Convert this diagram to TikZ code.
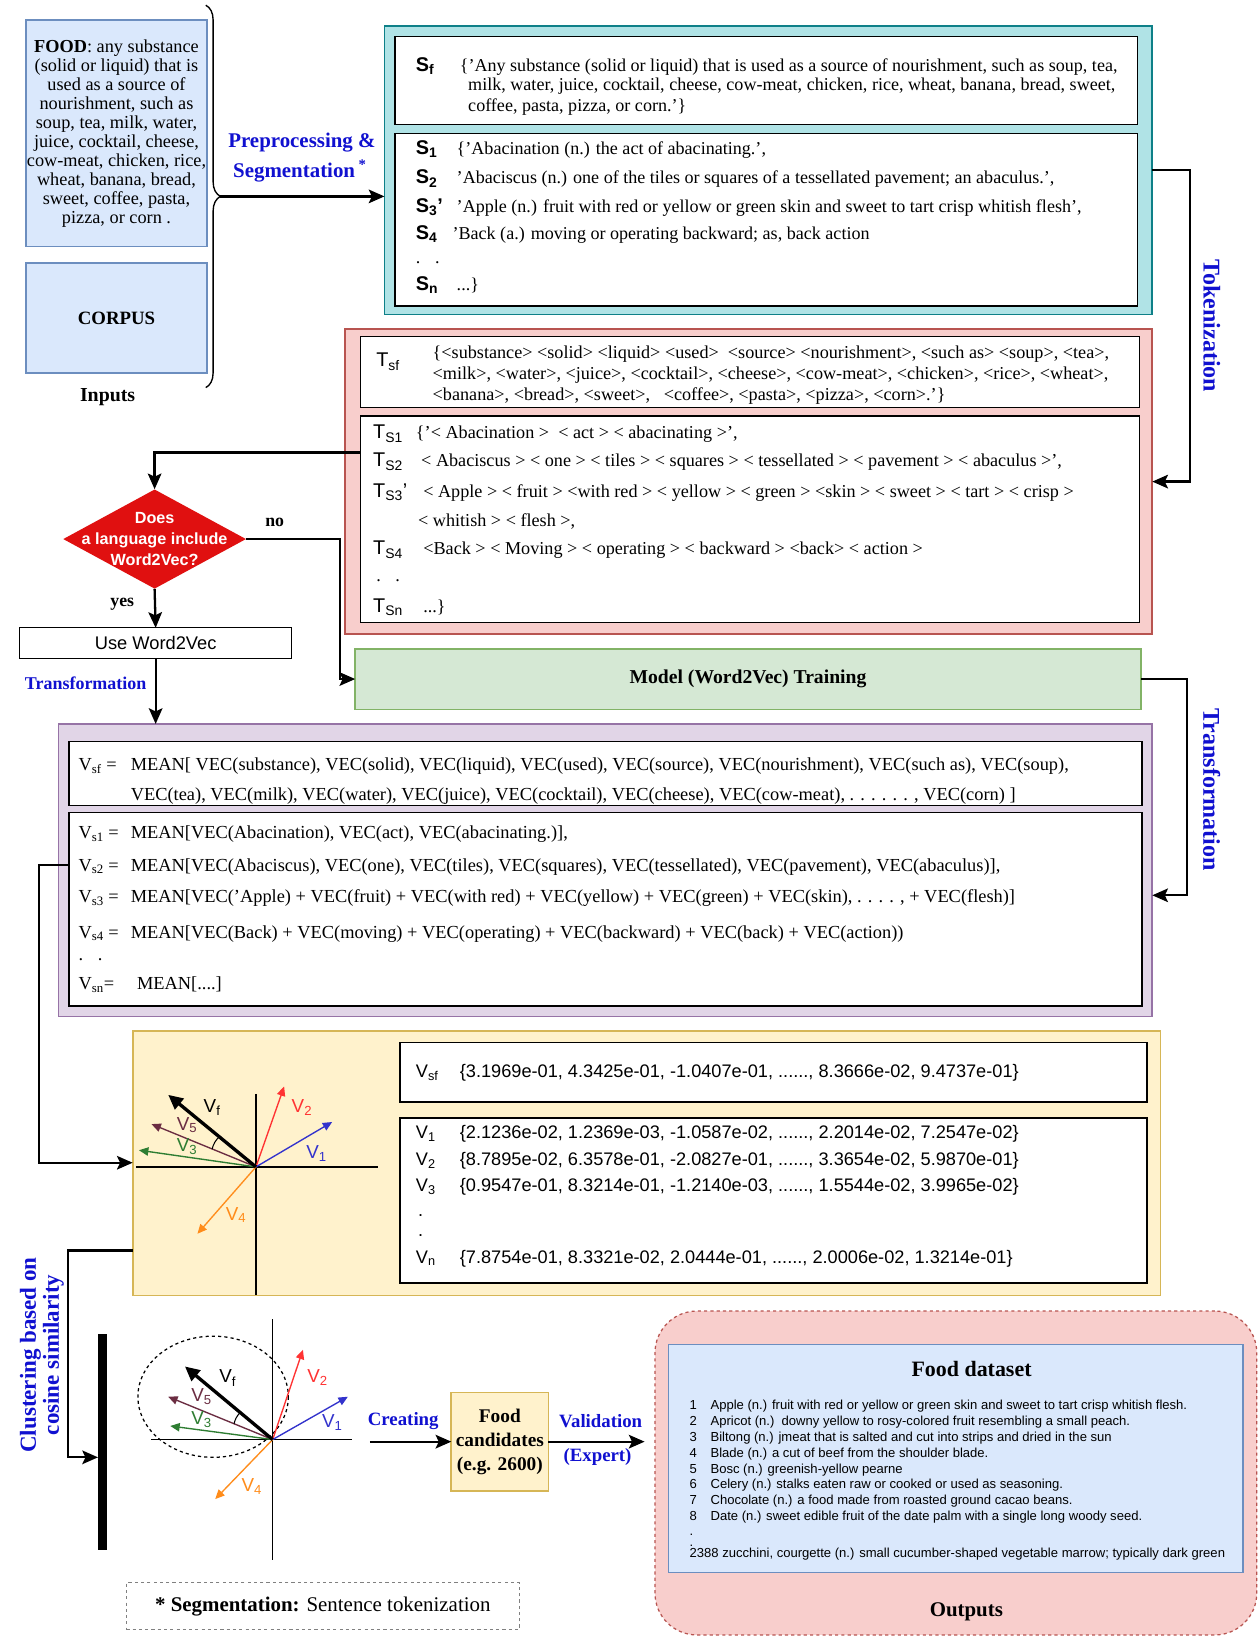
\documentclass[tikz,border=0pt]{standalone}
\usepackage{fontspec}
\setmainfont{Liberation Serif}
\setsansfont{Liberation Sans}
\usetikzlibrary{arrows.meta,shapes.geometric,decorations.pathreplacing,calc}
\definecolor{blueF}{HTML}{DAE8FC}
\definecolor{blueD}{HTML}{6C8EBF}
\definecolor{tealF}{HTML}{B0E3E6}
\definecolor{tealD}{HTML}{0E8088}
\definecolor{redF}{HTML}{F8CECC}
\definecolor{redD}{HTML}{B85450}
\definecolor{greenF}{HTML}{D5E8D4}
\definecolor{greenD}{HTML}{82B366}
\definecolor{purpF}{HTML}{E1D5E7}
\definecolor{purpD}{HTML}{9673A6}
\definecolor{yelF}{HTML}{FFF2CC}
\definecolor{yelD}{HTML}{D6B656}
\definecolor{decred}{HTML}{E01010}
\definecolor{labblue}{HTML}{1010D0}
\definecolor{cVa}{HTML}{3333CC}
\definecolor{cVb}{HTML}{FF3333}
\definecolor{cVc}{HTML}{2E7D32}
\definecolor{cVd}{HTML}{FF8C1A}
\definecolor{cVe}{HTML}{6B2D42}
\newcommand\fsz[2]{\fontsize{#1}{#2}\selectfont}
\tikzset{
 boxat/.style={anchor=north west, inner sep=0pt, outer sep=0pt},
 panel/.style 2 args={boxat, fill=#1, draw=#2, line width=1.6pt},
 wbox/.style={boxat, fill=white, draw=black, line width=1.4pt},
 txt/.style={anchor=base west, inner sep=0pt},
 stxt/.style={txt, font=\fsz{17.3}{20}},
 ttxt/.style={txt, font=\fsz{17.4}{20}},
 slab/.style={txt, font=\sffamily\bfseries\fsz{19}{20}},
 tlab/.style={txt, font=\sffamily\fsz{19}{20}},
 vtxt/.style={txt, font=\fsz{17.6}{22}},
 ntxt/.style={txt, font=\sffamily\fsz{17.4}{22}},
 ftxt/.style={txt, font=\sffamily\fsz{12.5}{14}},
 lab/.style={text=labblue, inner sep=0pt, font=\bfseries\fsz{20}{24}},
 sidelab/.style={lab, rotate=-90, font=\bfseries\fsz{23}{26}},
 conn/.style={draw=black, line width=2.2pt, -{Stealth[length=15pt,width=13pt,inset=3pt]}},
 vecarrow/.style={line width=1.3pt, -{Triangle[length=9pt,width=8pt]}},
 vlab/.style={inner sep=0pt, font=\sffamily\fsz{18}{20}},
}
\begin{document}
\begin{tikzpicture}[x=1pt,y=-1pt]
\useasboundingbox (0,0) rectangle (1205,1567);
\fill[white] (0,0) rectangle (1205,1567);

% ---------- Inputs ----------
\node[panel={blueF}{blueD}, minimum width=173pt, minimum height=217pt] (food) at (25,19) {};
\node[align=center, font=\fsz{17.5}{18.2}, inner sep=0pt] (foodtxt) at (food.center) {\textbf{FOOD}: any substance\\(solid or liquid) that is\\used as a source of\\nourishment, such as\\soup, tea, milk, water,\\juice, cocktail, cheese,\\cow-meat, chicken, rice,\\wheat, banana, bread,\\sweet, coffee, pasta,\\pizza, or corn .};
\node[panel={blueF}{blueD}, minimum width=173pt, minimum height=105pt] (corpus) at (25,252) {};
\node[font=\bfseries\fsz{18}{20}] (corpustxt) at (corpus.center) {CORPUS};
\draw[line width=1.3pt, decorate, decoration={brace, amplitude=14pt}] (197,5) -- (197,371);
\coordinate (bracetip) at (211,188);
\node[font=\bfseries\fsz{19}{22}] (inputs) at (103,380) {Inputs};
\node[lab] (pre1) at (289,136) {Preprocessing \&};
\node[lab] (pre2) at (287,164) {Segmentation\,\textsuperscript{*}};

% ---------- Sentences ----------
\node[panel={tealF}{tealD}, minimum width=735pt, minimum height=276pt] (teal) at (368,25) {};
\node[wbox, minimum width=711pt, minimum height=84pt] (sfbox) at (378,35) {};
\node[wbox, minimum width=711pt, minimum height=165pt] (sbox) at (378,128) {};
\node[slab] (sfl) at (398,68) {S\textsubscript{f}};
\node[stxt] (sf1) at (440,68) {\{'Any substance (solid or liquid) that is used as a source of nourishment, such as soup, tea,};
\node[stxt] (sf2) at (448,87) {milk, water, juice, cocktail, cheese, cow-meat, chicken, rice, wheat, banana, bread, sweet,};
\node[stxt] (sf3) at (448,107) {coffee, pasta, pizza, or corn.'\}};
\node[slab] (s1l) at (398,148) {S\textsubscript{1}};
\node[stxt] (s1) at (437,148) {\{'Abacination (n.) the act of abacinating.',};
\node[slab] (s2l) at (398,176) {S\textsubscript{2}};
\node[stxt] (s2) at (437,176) {'Abaciscus (n.) one of the tiles or squares of a tessellated pavement; an abaculus.',};
\node[slab] (s3l) at (398,203) {S\textsubscript{3}'};
\node[stxt] (s3) at (437,203) {'Apple (n.) fruit with red or yellow or green skin and sweet to tart crisp whitish flesh',};
\node[slab] (s4l) at (398,229) {S\textsubscript{4}};
\node[stxt] (s4) at (433,229) {'Back (a.) moving or operating backward; as, back action};
\node[stxt] (sdots) at (398,252) {.\hspace{14pt}.};
\node[slab] (snl) at (398,278) {S\textsubscript{n}};
\node[stxt] (sn) at (437,278) {...\}};
\draw[conn] (bracetip) -- (bracetip -| teal.west);

% ---------- Tokens ----------
\node[panel={redF}{redD}, minimum width=773pt, minimum height=292pt] (tbox) at (330,315) {};
\node[wbox, minimum width=746pt, minimum height=68pt] (tsfbox) at (345,322) {};
\node[wbox, minimum width=746pt, minimum height=198pt] (tsbox) at (345,398) {};
\node[tlab] (tsfl) at (360,351) {T\textsubscript{sf}};
\node[ttxt] (tsf1) at (414,343) {\{<substance> <solid> <liquid> <used>\ \ <source> <nourishment>, <such as> <soup>, <tea>,};
\node[ttxt] (tsf2) at (414,363) {<milk>, <water>, <juice>, <cocktail>, <cheese>, <cow-meat>, <chicken>, <rice>, <wheat>,};
\node[ttxt] (tsf3) at (414,383) {<banana>, <bread>, <sweet>,\ \ \ <coffee>, <pasta>, <pizza>, <corn>.'\}};
\node[tlab] (ts1l) at (357,420) {T\textsubscript{S1}};
\node[ttxt] (ts1) at (398,420) {\{'< Abacination >\ \ < act > < abacinating >',};
\node[tlab] (ts2l) at (357,447) {T\textsubscript{S2}};
\node[ttxt] (ts2) at (403,447) {< Abaciscus > < one > < tiles > < squares > < tessellated > < pavement > < abaculus >',};
\node[tlab] (ts3l) at (357,476) {T\textsubscript{S3}'};
\node[ttxt] (ts3) at (405,476) {< Apple > < fruit > <with red > < yellow > < green > <skin > < sweet > < tart > < crisp >};
\node[ttxt] (ts3b) at (400,504) {< whitish > < flesh >,};
\node[tlab] (ts4l) at (357,531) {T\textsubscript{S4}};
\node[ttxt] (ts4) at (405,531) {<Back > < Moving > < operating > < backward > <back> < action >};
\node[ttxt] (tdots) at (360,557) {.\hspace{14pt}.};
\node[tlab] (tsnl) at (357,586) {T\textsubscript{Sn}};
\node[ttxt] (tsn) at (405,586) {...\}};
\draw[conn] (teal.east) -- ++(36,0) |- (tbox.east);
\node[sidelab] (toklab) at (1160,312) {Tokenization};

% ---------- Decision ----------
\node[diamond, fill=decred, minimum width=175pt, minimum height=95pt, inner sep=0pt] (dec) at (148,516) {};
\node[align=center, text=white, inner sep=0pt, font=\sffamily\bfseries\fsz{15.5}{20}] (dectxt) at (dec.center) {Does\\a language include\\Word2Vec?};
\draw[conn] ($(tsbox.north west)+(0,35)$) -| (dec.north);
\node[wbox, line width=1.2pt, minimum width=260pt, minimum height=29pt] (usew) at (19,601) {};
\node[font=\sffamily\fsz{17.5}{19}] (usewtxt) at (usew.center) {Use Word2Vec};
\draw[conn] (dec.south) -- (usew.north);
\node[font=\bfseries\fsz{17}{20}] (yes) at (117,578) {yes};
\node[font=\bfseries\fsz{17}{20}] (no) at (263,500) {no};
\node[panel={greenF}{greenD}, minimum width=752pt, minimum height=58pt] (model) at (340,621) {};
\node[font=\bfseries\fsz{18.8}{21}] (modeltxt) at (model.center) {Model (Word2Vec) Training};
\draw[conn] (dec.east) -- ++(90,0) |- (model.west);
\node[lab, font=\bfseries\fsz{17.2}{20}] (translab1) at (82,654) {Transformation};

% ---------- Vectors (MEAN) ----------
\node[panel={purpF}{purpD}, minimum width=1047pt, minimum height=280pt] (vbox) at (56,693) {};
\node[wbox, minimum width=1027pt, minimum height=61pt] (vsfbox) at (66,710) {};
\node[wbox, minimum width=1027pt, minimum height=185pt] (vsbox) at (66,778) {};
\node[vtxt] (vsfl) at (75,738) {V\textsubscript{sf} =};
\node[vtxt] (vsf1) at (125,738) {MEAN[ VEC(substance), VEC(solid), VEC(liquid), VEC(used), VEC(source), VEC(nourishment), VEC(such as), VEC(soup),};
\node[vtxt] (vsf2) at (125,766) {VEC(tea), VEC(milk), VEC(water), VEC(juice), VEC(cocktail), VEC(cheese), VEC(cow-meat), . . . . . . , VEC(corn) ]};
\node[vtxt] (vs1l) at (75,803) {V\textsubscript{s1} =};
\node[vtxt] (vs1) at (125,803) {MEAN[VEC(Abacination), VEC(act), VEC(abacinating.)],};
\node[vtxt] (vs2l) at (75,834) {V\textsubscript{s2} =};
\node[vtxt] (vs2) at (125,834) {MEAN[VEC(Abaciscus), VEC(one), VEC(tiles), VEC(squares), VEC(tessellated), VEC(pavement), VEC(abaculus)],};
\node[vtxt] (vs3l) at (75,864) {V\textsubscript{s3} =};
\node[vtxt] (vs3) at (125,864) {MEAN[VEC('Apple) + VEC(fruit) + VEC(with red) + VEC(yellow) + VEC(green) + VEC(skin), . . . . , + VEC(flesh)]};
\node[vtxt] (vs4l) at (75,898) {V\textsubscript{s4} =};
\node[vtxt] (vs4) at (125,898) {MEAN[VEC(Back) + VEC(moving) + VEC(operating) + VEC(backward) + VEC(back) + VEC(action))};
\node[vtxt] (vdots) at (75,919) {.\hspace{14pt}.};
\node[vtxt] (vsnl) at (75,947) {V\textsubscript{sn}=};
\node[vtxt] (vsn) at (131,947) {MEAN[....]};
\draw[conn] (usew.south) -- (usew.south |- vbox.north);
\draw[conn] (model.east) -- ++(44,0) |- ($(vbox.north east)+(0,164)$);
\node[sidelab] (translab2) at (1160,756) {Transformation};

% ---------- Numeric vectors ----------
\node[panel={yelF}{yelD}, minimum width=984pt, minimum height=253pt] (ybox) at (127,987) {};
\node[wbox, minimum width=715pt, minimum height=57pt] (nsfbox) at (383,998) {};
\node[wbox, minimum width=715pt, minimum height=158pt] (nbox) at (383,1070) {};
\node[ntxt] (nsfl) at (398,1031) {V\textsubscript{sf}};
\node[ntxt] (nsf) at (440,1031) {\{3.1969e-01, 4.3425e-01, -1.0407e-01, ......, 8.3666e-02, 9.4737e-01\}};
\node[ntxt] (n1l) at (398,1090) {V\textsubscript{1}};
\node[ntxt] (n1) at (440,1090) {\{2.1236e-02, 1.2369e-03, -1.0587e-02, ......, 2.2014e-02, 7.2547e-02\}};
\node[ntxt] (n2l) at (398,1116) {V\textsubscript{2}};
\node[ntxt] (n2) at (440,1116) {\{8.7895e-02, 6.3578e-01, -2.0827e-01, ......, 3.3654e-02, 5.9870e-01\}};
\node[ntxt] (n3l) at (398,1141) {V\textsubscript{3}};
\node[ntxt] (n3) at (440,1141) {\{0.9547e-01, 8.3214e-01, -1.2140e-03, ......, 1.5544e-02, 3.9965e-02\}};
\node[ntxt] (nd1) at (400,1164) {.};
\node[ntxt] (nd2) at (400,1184) {.};
\node[ntxt] (nnl) at (398,1209) {V\textsubscript{n}};
\node[ntxt] (nn) at (440,1209) {\{7.8754e-01, 8.3321e-02, 2.0444e-01, ......, 2.0006e-02, 1.3214e-01\}};
\draw[conn] ($(vsbox.north west)+(0,50)$) -- ++(-29,0) |- ($(ybox.north west)+(0,126)$);

% vector sketch 1
\coordinate (o1) at (245,1117);
\draw[line width=1.2pt] (130,1117) -- (362,1117);
\draw[line width=1.2pt] (245,1047) -- (245,1240);
\draw[vecarrow, cVb] (o1) -- (272,1040);
\draw[vecarrow, cVa] (o1) -- (318,1074);
\draw[vecarrow, cVe] (o1) -- (145,1076);
\draw[vecarrow, cVc] (o1) -- (133,1101);
\draw[vecarrow, cVd] (o1) -- (189,1181);
\draw[line width=3.2pt, -{Triangle[length=14pt,width=13pt]}] (o1) -- (161,1048);
\draw[line width=1pt] (210,1088) to[bend right=15] (203,1100);
\node[vlab] (l1f) at (203,1060) {V\textsubscript{f}};
\node[vlab, text=cVb] (l12) at (289,1060) {V\textsubscript{2}};
\node[vlab, text=cVa] (l11) at (303,1104) {V\textsubscript{1}};
\node[vlab, text=cVe] (l15) at (179,1077) {V\textsubscript{5}};
\node[vlab, text=cVc] (l13) at (179,1098) {V\textsubscript{3}};
\node[vlab, text=cVd] (l14) at (226,1163) {V\textsubscript{4}};

% ---------- Clustering ----------
\node[fill=black, minimum width=8pt, minimum height=207pt, inner sep=0pt] (bar) at (98,1380) {};
\draw[conn] ($(ybox.north west)+(0,210)$) -- ++(-62,0) |- ($(bar.west)+(0,15)$);
\node[lab, rotate=90, align=center, font=\bfseries\fsz{22}{22}] (clulab) at (40,1297) {Clustering based on\\cosine similarity};

% vector sketch 2
\coordinate (o2) at (261,1378);
\draw[line width=1.2pt] (145,1378) -- (337,1378);
\draw[line width=1.2pt] (261,1263) -- (261,1493);
\draw[dashed, line width=1.2pt] (204,1337) ellipse [x radius=72, y radius=58];
\draw[vecarrow, cVb] (o2) -- (290,1292);
\draw[vecarrow, cVa] (o2) -- (333,1337);
\draw[vecarrow, cVe] (o2) -- (161,1337);
\draw[vecarrow, cVc] (o2) -- (163,1365);
\draw[vecarrow, cVd] (o2) -- (206,1435);
\draw[line width=3.2pt, -{Triangle[length=14pt,width=13pt]}] (o2) -- (177,1308);
\draw[line width=1pt] (230,1352) to[bend right=15] (224,1363);
\node[vlab] (l2f) at (218,1319) {V\textsubscript{f}};
\node[vlab, text=cVb] (l22) at (304,1319) {V\textsubscript{2}};
\node[vlab, text=cVa] (l21) at (318,1362) {V\textsubscript{1}};
\node[vlab, text=cVe] (l25) at (193,1337) {V\textsubscript{5}};
\node[vlab, text=cVc] (l23) at (193,1359) {V\textsubscript{3}};
\node[vlab, text=cVd] (l24) at (241,1423) {V\textsubscript{4}};

% ---------- Candidates and outputs ----------
\coordinate (cstart) at (354,1380);
\node[panel={yelF}{yelD}, minimum width=93pt, minimum height=94pt] (fc) at (432,1333) {};
\node[align=center, inner sep=0pt, font=\bfseries\fsz{18.5}{23}] (fctxt) at (fc.center) {Food\\candidates\\(e.g. 2600)};
\draw[conn] (cstart) -- (fc.west);
\node[lab, font=\bfseries\fsz{18}{22}] (creating) at (386,1360) {Creating};
\node[panel={redF}{redD}, dashed, line width=1.2pt, rounded corners=40pt, minimum width=576pt, minimum height=310pt] (outbox) at (627,1255) {};
\draw[conn, shorten >=10pt] (fc.east) -- (fc.east -| outbox.west);
\node[lab, font=\bfseries\fsz{18}{22}] (valid) at (575,1360) {Validation};
\node[lab, font=\bfseries\fsz{18}{22}] (expert) at (572,1395) {(Expert)};
\node[panel={blueF}{blueD}, line width=1.3pt, minimum width=550pt, minimum height=218pt] (fdbox) at (640,1287) {};
\node[font=\bfseries\fsz{21}{24}] (fdtitle) at (930,1310) {Food dataset};
\foreach \t [count=\i] in {{Apple (n.) fruit with red or yellow or green skin and sweet to tart crisp whitish flesh.},
 {Apricot (n.)\ \ downy yellow to rosy-colored fruit resembling a small peach.},
 {Biltong (n.) jmeat that is salted and cut into strips and dried in the sun},
 {Blade (n.) a cut of beef from the shoulder blade.},
 {Bosc (n.) greenish-yellow pearne},
 {Celery (n.) stalks eaten raw or cooked or used as seasoning.},
 {Chocolate (n.) a food made from roasted ground cacao beans.},
 {Date (n.) sweet edible fruit of the date palm with a single long woody seed.}}
 {
  \node[ftxt] (fn\i) at (660,{1334+15.2*\i}) {\i};
  \node[ftxt] (fl\i) at (680,{1334+15.2*\i}) {\t};
 }
\node[ftxt] (fd1) at (660,1470) {.};
\node[ftxt] (fd2) at (660,1480) {.};
\node[ftxt] (flast) at (660,1491) {2388 zucchini, courgette (n.) small cucumber-shaped vegetable marrow; typically dark green};
\node[font=\bfseries\fsz{20}{24}] (outlab) at (925,1543) {Outputs};

% ---------- Legend ----------
\node[boxat, draw=gray, dashed, line width=1pt, minimum width=376pt, minimum height=45pt] (legend) at (121,1515) {};
\node[font=\fsz{20}{22}] (legtxt) at (legend.center) {\textbf{* Segmentation:} Sentence tokenization};
\end{tikzpicture}
\end{document}
